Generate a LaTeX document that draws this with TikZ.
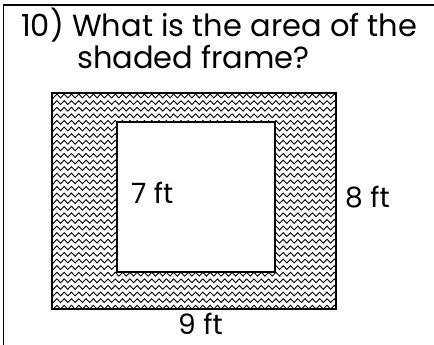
\documentclass[tikz,border=0pt]{standalone}
\usepackage{fontspec}
\setmainfont{Poppins}
\usetikzlibrary{decorations.pathmorphing}
\begin{document}
\begin{tikzpicture}[x=1pt,y=-1pt,
  txt/.style={anchor=base west,inner sep=0pt,font=\fontsize{30.5}{34}\selectfont},
  lab/.style={anchor=base west,inner sep=0pt,font=\fontsize{28}{32}\selectfont},
  rule/.style={line width=1.8pt,black},
  edge/.style={line width=2.6pt,black},
  wave/.style={line width=0.9pt,black,decorate,decoration={snake,segment length=7.3pt,amplitude=1.9pt}}]
\useasboundingbox (0,0) rectangle (434,345);
\fill[white] (0,0) rectangle (434,345);
% page border
\coordinate (tl) at (3.5,5);
\coordinate (tr) at (434,5);
\coordinate (bl) at (3.5,345);
\draw[rule] (tr) -- (tl) -- (bl);
% title
\node[txt] (q1) at (21,37) {10) What is the area of the};
\node[txt] (q2) at (77,69) {shaded frame?};
% frame
\coordinate (o1) at (52,93);
\coordinate (o2) at (336,309);
\coordinate (i1) at (117,122);
\coordinate (i2) at (275,272);
\begin{scope}
  \clip (o1) rectangle (o2);
  \foreach \k in {0,...,33} {
    \draw[wave] (40,{96+6.6*\k}) -- (350,{96+6.6*\k});
  }
\end{scope}
\fill[white] (i1) rectangle (i2);
\draw[edge] (o1) rectangle (o2);
\draw[edge] (i1) rectangle (i2);
% labels
\node[lab] (l7) at (131,203) {7 ft};
\node[lab] (l8) at (345,207) {8 ft};
\node[lab] (l9) at (178,334) {9 ft};
\end{tikzpicture}
\end{document}
